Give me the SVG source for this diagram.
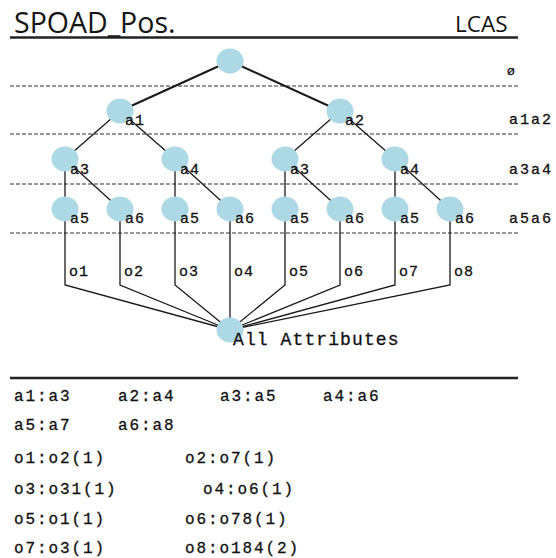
<svg xmlns="http://www.w3.org/2000/svg" width="556" height="558" viewBox="0 0 556 558">
  <style>
    .title { font-family: "Open Sans", "Liberation Sans", sans-serif; fill: #141414; }
    .lbl { font-family: "Liberation Mono", "DejaVu Sans Mono", monospace; font-size: 15px; letter-spacing: 1px; fill: #111; stroke: #111; stroke-width: 0.3; }
    .lvl { font-family: "Liberation Mono", "DejaVu Sans Mono", monospace; font-size: 15px; letter-spacing: 2px; fill: #111; stroke: #111; stroke-width: 0.3; }
    .big { font-size: 18px; letter-spacing: 1.1px; }
    .tiny { font-size: 13px; }
    .note { font-family: "Liberation Mono", "DejaVu Sans Mono", monospace; font-size: 16px; letter-spacing: 1.9px; fill: #111; stroke: #111; stroke-width: 0.3; }
    .node { fill: #add8e6; }
    .edge { stroke: #1a1a1a; stroke-width: 1.3; fill: none; }
    .edge.top { stroke-width: 2; }
    .rule { stroke: #222; stroke-width: 2.5; }
    .dash { stroke: #333; stroke-width: 1; stroke-dasharray: 4 2; }
  </style>

  <!-- header -->
  <text class="title" x="14" y="33" font-size="28.5">SPOAD_Pos.</text>
  <text class="title" x="455" y="32" font-size="22.5">LCAS</text>
  <line class="rule" x1="10" y1="37.5" x2="518" y2="37.5"/>

  <!-- level separators -->
  <g id="levels">
    <line class="dash" x1="10" y1="86" x2="518" y2="86"/>
    <line class="dash" x1="10" y1="134" x2="518" y2="134"/>
    <line class="dash" x1="10" y1="184" x2="518" y2="184"/>
    <line class="dash" x1="10" y1="233" x2="518" y2="233"/>
    <text class="lvl tiny" x="507" y="75">ø</text>
    <text class="lvl" x="509" y="124">a1a2</text>
    <text class="lvl" x="509" y="174">a3a4</text>
    <text class="lvl" x="509" y="223">a5a6</text>
  </g>

  <!-- connectors -->
  <g id="connectors">
    <line class="edge top" x1="230" y1="61" x2="120" y2="111"/>
    <line class="edge top" x1="230" y1="61" x2="340" y2="111"/>
    <line class="edge" x1="120" y1="111" x2="65" y2="159"/>
    <line class="edge" x1="120" y1="111" x2="175" y2="159"/>
    <line class="edge" x1="340" y1="111" x2="285" y2="159"/>
    <line class="edge" x1="340" y1="111" x2="395" y2="159"/>
    <line class="edge" x1="65" y1="159" x2="65" y2="209"/>
    <line class="edge" x1="65" y1="159" x2="120" y2="209"/>
    <line class="edge" x1="175" y1="159" x2="175" y2="209"/>
    <line class="edge" x1="175" y1="159" x2="230" y2="209"/>
    <line class="edge" x1="285" y1="159" x2="285" y2="209"/>
    <line class="edge" x1="285" y1="159" x2="340" y2="209"/>
    <line class="edge" x1="395" y1="159" x2="395" y2="209"/>
    <line class="edge" x1="395" y1="159" x2="450" y2="209"/>
    <polyline class="edge" points="65,209 65,285 230,330"/>
    <polyline class="edge" points="120,209 120,285 230,330"/>
    <polyline class="edge" points="175,209 175,285 230,330"/>
    <polyline class="edge" points="230,209 230,330"/>
    <polyline class="edge" points="285,209 285,285 230,330"/>
    <polyline class="edge" points="340,209 340,285 230,330"/>
    <polyline class="edge" points="395,209 395,285 230,330"/>
    <polyline class="edge" points="450,209 450,285 230,330"/>
    <text class="lbl" x="69" y="276">o1</text>
    <text class="lbl" x="124" y="276">o2</text>
    <text class="lbl" x="179" y="276">o3</text>
    <text class="lbl" x="234" y="276">o4</text>
    <text class="lbl" x="289" y="276">o5</text>
    <text class="lbl" x="344" y="276">o6</text>
    <text class="lbl" x="399" y="276">o7</text>
    <text class="lbl" x="454" y="276">o8</text>
  </g>

  <!-- lattice nodes -->
  <g id="root"><ellipse class="node" cx="230" cy="61" rx="13.5" ry="12.5"/></g>
  <g id="n-a1"><ellipse class="node" cx="120" cy="111" rx="13.5" ry="12.5"/><text class="lbl" x="125" y="125">a1</text></g>
  <g id="n-a2"><ellipse class="node" cx="340" cy="111" rx="13.5" ry="12.5"/><text class="lbl" x="345" y="125">a2</text></g>
  <g id="n-a1-a3"><ellipse class="node" cx="65" cy="159" rx="13.5" ry="12.5"/><text class="lbl" x="70" y="174">a3</text></g>
  <g id="n-a1-a4"><ellipse class="node" cx="175" cy="159" rx="13.5" ry="12.5"/><text class="lbl" x="180" y="174">a4</text></g>
  <g id="n-a2-a3"><ellipse class="node" cx="285" cy="159" rx="13.5" ry="12.5"/><text class="lbl" x="290" y="174">a3</text></g>
  <g id="n-a2-a4"><ellipse class="node" cx="395" cy="159" rx="13.5" ry="12.5"/><text class="lbl" x="400" y="174">a4</text></g>
  <g id="n-leaf1"><ellipse class="node" cx="65" cy="209" rx="13.5" ry="12.5"/><text class="lbl" x="70" y="223">a5</text></g>
  <g id="n-leaf2"><ellipse class="node" cx="120" cy="209" rx="13.5" ry="12.5"/><text class="lbl" x="125" y="223">a6</text></g>
  <g id="n-leaf3"><ellipse class="node" cx="175" cy="209" rx="13.5" ry="12.5"/><text class="lbl" x="180" y="223">a5</text></g>
  <g id="n-leaf4"><ellipse class="node" cx="230" cy="209" rx="13.5" ry="12.5"/><text class="lbl" x="235" y="223">a6</text></g>
  <g id="n-leaf5"><ellipse class="node" cx="285" cy="209" rx="13.5" ry="12.5"/><text class="lbl" x="290" y="223">a5</text></g>
  <g id="n-leaf6"><ellipse class="node" cx="340" cy="209" rx="13.5" ry="12.5"/><text class="lbl" x="345" y="223">a6</text></g>
  <g id="n-leaf7"><ellipse class="node" cx="395" cy="209" rx="13.5" ry="12.5"/><text class="lbl" x="400" y="223">a5</text></g>
  <g id="n-leaf8"><ellipse class="node" cx="450" cy="209" rx="13.5" ry="12.5"/><text class="lbl" x="455" y="223">a6</text></g>
  <g id="bottom"><ellipse class="node" cx="230" cy="330" rx="13.5" ry="12.5"/><text class="lbl big" x="233" y="345">All Attributes</text></g>

  <!-- legend -->
  <line class="rule" x1="10" y1="378" x2="518" y2="378"/>
  <g id="legend">
    <text class="note" x="14" y="401">a1:a3</text>
    <text class="note" x="118" y="401">a2:a4</text>
    <text class="note" x="220" y="401">a3:a5</text>
    <text class="note" x="323" y="401">a4:a6</text>
    <text class="note" x="14" y="430">a5:a7</text>
    <text class="note" x="118" y="430">a6:a8</text>
    <text class="note" x="14" y="463">o1:o2(1)</text>
    <text class="note" x="185" y="463">o2:o7(1)</text>
    <text class="note" x="14" y="494">o3:o31(1)</text>
    <text class="note" x="203" y="494">o4:o6(1)</text>
    <text class="note" x="14" y="524">o5:o1(1)</text>
    <text class="note" x="185" y="524">o6:o78(1)</text>
    <text class="note" x="14" y="553">o7:o3(1)</text>
    <text class="note" x="185" y="553">o8:o184(2)</text>
  </g>
</svg>
